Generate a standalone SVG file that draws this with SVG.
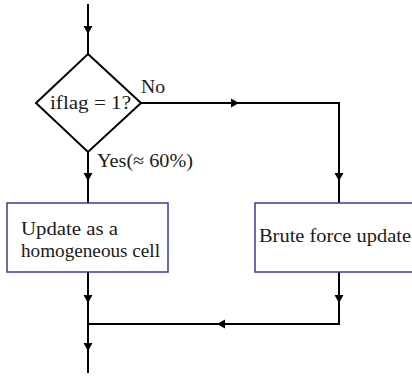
<svg xmlns="http://www.w3.org/2000/svg" width="412" height="376" viewBox="0 0 412 376">
<style>
.ln{fill:none;stroke:#000;stroke-width:2}
.ah{fill:#000;stroke:none}
.box{fill:#fff;stroke:#3b3b9b;stroke-width:1.5}
.dia{fill:#fff;stroke:#000;stroke-width:2}
text{font-family:"Liberation Serif","DejaVu Serif",serif;font-size:19px;fill:#1a1a1a}
</style>
<defs>
<path id="ad" d="M-4.5,-8 L4.5,-8 L0,0 Z"/>
</defs>
<g id="connectors">
<path class="ln" d="M88,4 V54"/>
<use href="#ad" class="ah" transform="translate(88,34)"/>
<path class="ln" d="M88,152 V203"/>
<use href="#ad" class="ah" transform="translate(88,181)"/>
<path class="ln" d="M141,103 H339 V203"/>
<use href="#ad" class="ah" transform="translate(239,103) rotate(-90)"/>
<use href="#ad" class="ah" transform="translate(339,181)"/>
<path class="ln" d="M88,272 V373"/>
<use href="#ad" class="ah" transform="translate(88,303)"/>
<use href="#ad" class="ah" transform="translate(88,351)"/>
<path class="ln" d="M339,272 V324 H88"/>
<use href="#ad" class="ah" transform="translate(339,303)"/>
<use href="#ad" class="ah" transform="translate(217,324) rotate(90)"/>
</g>
<g id="decision">
<path class="dia" d="M88,54 L141,103 L88,152 L36,103 Z"/>
<text x="50" y="109" textLength="81" lengthAdjust="spacingAndGlyphs">iflag = 1?</text>
<text x="141" y="93" textLength="24" lengthAdjust="spacingAndGlyphs">No</text>
<text x="97" y="167" textLength="96" lengthAdjust="spacingAndGlyphs">Yes(≈ 60%)</text>
</g>
<g id="homogeneous">
<rect class="box" x="7" y="203" width="161" height="69"/>
<text x="21" y="235" textLength="97" lengthAdjust="spacingAndGlyphs">Update as a</text>
<text x="21" y="257" textLength="139" lengthAdjust="spacingAndGlyphs">homogeneous cell</text>
</g>
<g id="brute">
<rect class="box" x="255" y="203" width="170" height="69"/>
<text x="259" y="242" textLength="152" lengthAdjust="spacingAndGlyphs">Brute force update</text>
</g>
</svg>
